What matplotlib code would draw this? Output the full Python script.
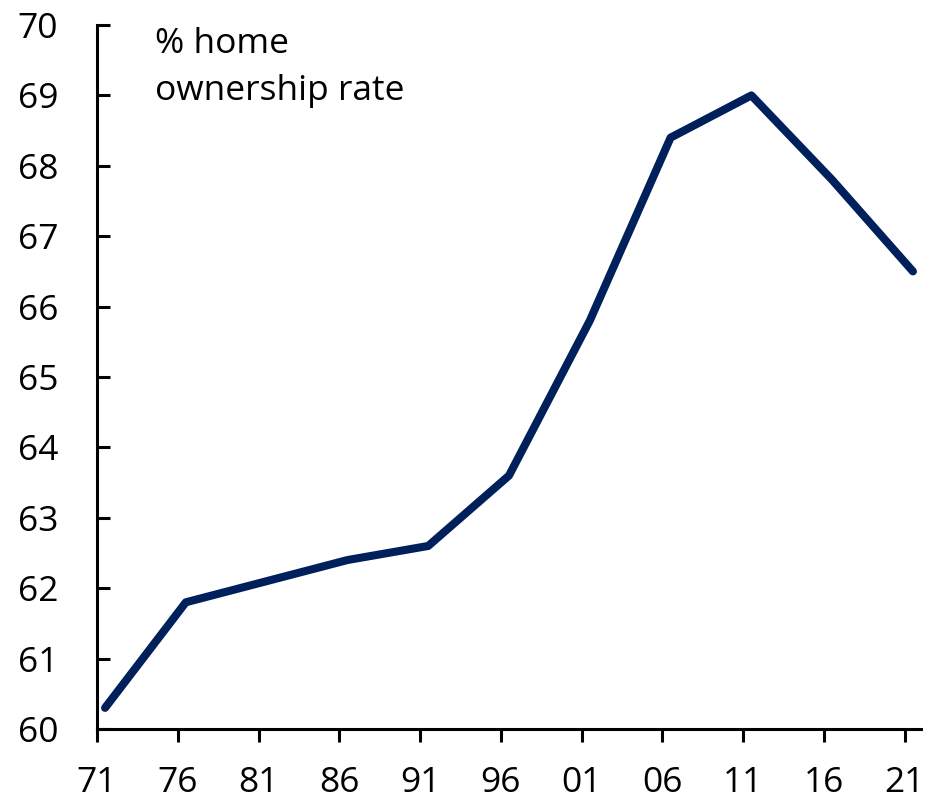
import matplotlib
matplotlib.use('Agg')
import matplotlib.pyplot as plt

plt.rcParams['font.family'] = ['Open Sans', 'DejaVu Sans']

# 数据: 英国住房自有率 (%)
years = [1971, 1976, 1981, 1986, 1991, 1996, 2001, 2006, 2011, 2016, 2021]
rate = [60.3, 61.8, 62.1, 62.4, 62.6, 63.6, 65.8, 68.4, 69.0, 67.8, 66.5]
tick_labels = ['71', '76', '81', '86', '91', '96', '01', '06', '11', '16', '21']

navy = '#00205B'

fig = plt.figure(figsize=(9.36, 7.99), dpi=100)
ax = fig.add_axes([0.1036, 0.0876, 0.8804, 0.8811])

# 数据点放在年中
x = [y + 0.5 for y in years]
ax.plot(x, rate, color=navy, lw=5.8, solid_capstyle='round', solid_joinstyle='round')

ax.set_xlim(1971, 2022)
ax.set_ylim(60, 70)
ax.set_xticks(years)
ax.set_xticklabels(tick_labels)
ax.set_yticks(range(60, 71))

for s in ['top', 'right']:
    ax.spines[s].set_visible(False)
for s in ['left', 'bottom']:
    ax.spines[s].set_linewidth(2.2)

ax.tick_params(axis='y', direction='in', length=9.5, width=2.2, pad=28, labelsize=25.5)
ax.tick_params(axis='x', direction='out', length=9.5, width=2.2, pad=17, labelsize=25.5)

ax.text(0.07, 0.997, '% home\nownership rate', transform=ax.transAxes,
        ha='left', va='top', fontsize=25.5, linespacing=1.5)

fig.savefig('out.png', dpi=100)
